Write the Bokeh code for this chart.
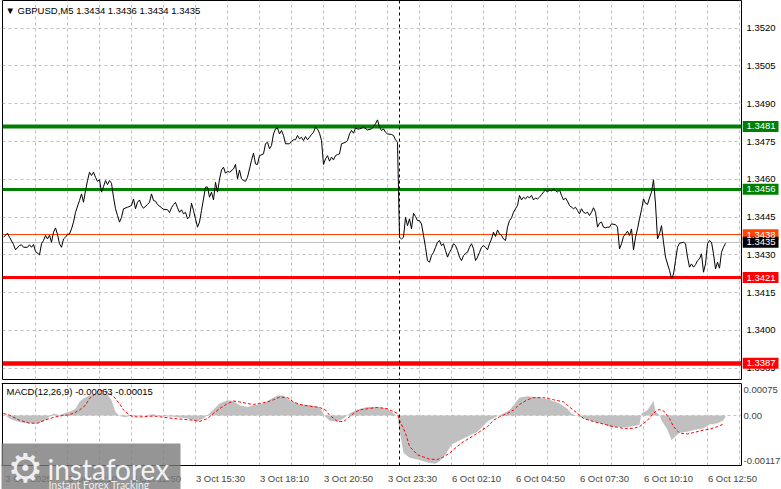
import pandas as pd
from bokeh.plotting import figure
from bokeh.layouts import column, row
from bokeh.models import Range1d, FixedTicker, Label, BoxAnnotation, PrintfTickFormatter
from bokeh.core.properties import value
from bokeh.embed import file_html
from bokeh.resources import INLINE

# ---------------- data ----------------
symbol_title = "\u25BC GBPUSD,M5  1.3434 1.3436 1.3434 1.3435"
macd_title = "MACD(12,26,9) -0.00063 -0.00015"

# M5 bars, weekend collapsed (Fri 3 Oct 07:30 .. Mon 6 Oct 13:35)
fri_times = pd.date_range("2025-10-03 07:30", "2025-10-03 23:55", freq="5min")
mon_times = pd.date_range("2025-10-06 00:00", "2025-10-06 13:35", freq="5min")
day_break_bar = len(fri_times)

price_bars = [0, 2, 3, 5, 6, 8, 9, 10, 12, 13, 14, 15, 16, 18, 19, 20, 21, 22, 23, 24, 25, 26, 27, 28, 29, 30,
              31, 32, 33, 34, 35, 36, 38, 39, 40, 41, 42, 43, 44, 45, 46, 47, 48, 49, 50, 51, 52, 53, 54, 55, 56,
              57, 58, 59, 60, 62, 64, 65, 66, 67, 68, 69, 70, 72, 73, 74, 75, 76, 77, 79, 80, 82, 83, 84, 85, 86,
              87, 88, 89, 90,
              91, 92, 93, 94, 95, 96, 97, 98, 99, 100, 101, 102, 103, 104, 105, 106, 107, 108, 109, 110, 111, 112,
              113, 115, 116, 117, 118, 119, 120, 121, 122, 124, 125, 126, 127, 128, 130, 131, 132, 133, 134, 135,
              136, 137, 138, 139, 140, 141, 143, 144, 145, 146, 147, 148, 149, 150, 151, 152, 153, 154, 155, 156,
              157, 158, 159, 160, 161, 162, 163, 164, 165, 166, 167, 168, 169, 171, 172, 173, 174, 175, 176, 177,
              178, 180, 182,
              184, 185, 186, 187, 188, 189, 190, 191, 192, 194, 195, 196, 197, 198, 199, 200, 201, 202, 203, 204,
              205, 206, 207, 208, 209, 210, 211, 212, 213, 214, 215, 216, 217, 218, 219, 220, 221, 222, 223, 224,
              225, 226, 227, 228, 229, 230, 231, 232, 233, 234, 235, 236, 237, 238, 239, 240, 241, 242, 243, 244,
              245, 246, 247, 248, 249, 250, 251, 252, 253, 254, 255, 256, 257, 258, 259, 260, 261, 262, 263, 264,
              265, 266, 267, 268, 269, 270, 271, 272, 273, 274, 275,
              276, 277, 278, 279, 280, 281, 282, 283, 285, 286, 287, 288, 289, 290, 291, 292, 293, 294, 295, 296,
              297, 298, 299, 300, 301, 302, 303, 304, 306, 307, 308, 309, 310, 311, 312, 313, 314, 315, 316, 317,
              318, 319, 320, 321, 322, 323, 324, 325, 326, 327, 328, 329, 330, 331, 333, 334, 335, 336, 337, 338,
              340, 341, 342, 343, 344, 345, 346, 347, 348, 349, 350, 351, 352, 353, 354, 355, 356, 357, 358, 359,
              360, 361]
price_close = [1.34370, 1.34386, 1.34370, 1.34341, 1.34320, 1.34337, 1.34340, 1.34330, 1.34330, 1.34340,
               1.34330, 1.34341, 1.34314, 1.34300, 1.34344, 1.34357, 1.34377, 1.34363, 1.34378, 1.34350,
               1.34390, 1.34407, 1.34381, 1.34344, 1.34330, 1.34363, 1.34370, 1.34381, 1.34383, 1.34403,
               1.34430, 1.34469, 1.34516, 1.34542, 1.34509, 1.34555, 1.34595, 1.34628, 1.34615, 1.34628,
               1.34608, 1.34592, 1.34598, 1.34549, 1.34571, 1.34595, 1.34579, 1.34595, 1.34584, 1.34529,
               1.34483, 1.34456, 1.34430, 1.34449, 1.34483, 1.34489, 1.34496, 1.34522, 1.34483, 1.34509,
               1.34518, 1.34496, 1.34485, 1.34500, 1.34509, 1.34542, 1.34516, 1.34513, 1.34500, 1.34487,
               1.34481, 1.34479, 1.34468, 1.34487, 1.34500, 1.34508, 1.34487, 1.34469, 1.34479, 1.34463,
               1.34469, 1.34443, 1.34452, 1.34505, 1.34476, 1.34443, 1.34410, 1.34430, 1.34476, 1.34522,
               1.34569, 1.34569, 1.34529, 1.34549, 1.34518, 1.34588, 1.34549, 1.34600, 1.34637, 1.34648,
               1.34624, 1.34632, 1.34628, 1.34641, 1.34659, 1.34602, 1.34637, 1.34602, 1.34595, 1.34592,
               1.34608, 1.34675, 1.34704, 1.34661, 1.34659, 1.34694, 1.34701, 1.34741, 1.34747, 1.34721,
               1.34734, 1.34780, 1.34800, 1.34804, 1.34780, 1.34794, 1.34774, 1.34741, 1.34741, 1.34751,
               1.34757, 1.34757, 1.34774, 1.34761, 1.34767, 1.34754, 1.34770, 1.34757, 1.34767, 1.34778,
               1.34787, 1.34807, 1.34800, 1.34783, 1.34754, 1.34659, 1.34681, 1.34694, 1.34672, 1.34688,
               1.34677, 1.34694, 1.34698, 1.34701, 1.34741, 1.34747, 1.34754, 1.34780, 1.34794, 1.34783,
               1.34804, 1.34800, 1.34800, 1.34807, 1.34796,
               1.34800, 1.34810, 1.34820, 1.34836, 1.34807, 1.34794, 1.34800, 1.34787, 1.34780, 1.34778,
               1.34774, 1.34757, 1.34747, 1.34370, 1.34363, 1.34370, 1.34449, 1.34416, 1.34443, 1.34403,
               1.34465, 1.34452, 1.34436, 1.34436, 1.34423, 1.34377, 1.34330, 1.34277, 1.34271, 1.34297,
               1.34310, 1.34330, 1.34350, 1.34357, 1.34337, 1.34344, 1.34317, 1.34291, 1.34310, 1.34324,
               1.34344, 1.34337, 1.34317, 1.34291, 1.34277, 1.34297, 1.34306, 1.34310, 1.34330, 1.34344,
               1.34324, 1.34277, 1.34291, 1.34310, 1.34330, 1.34337, 1.34330, 1.34320, 1.34344, 1.34363,
               1.34390, 1.34373, 1.34399, 1.34383, 1.34377, 1.34363, 1.34357, 1.34410, 1.34436, 1.34447,
               1.34469, 1.34483, 1.34496, 1.34536, 1.34518, 1.34529, 1.34522, 1.34532, 1.34526, 1.34536,
               1.34518, 1.34526, 1.34522, 1.34529, 1.34539, 1.34549, 1.34558, 1.34549, 1.34558, 1.34553,
               1.34562,
               1.34555, 1.34549, 1.34558, 1.34536, 1.34518, 1.34526, 1.34513, 1.34496, 1.34483, 1.34489,
               1.34476, 1.34463, 1.34483, 1.34469, 1.34465, 1.34469, 1.34456, 1.34469, 1.34487, 1.34469,
               1.34410, 1.34426, 1.34430, 1.34410, 1.34407, 1.34410, 1.34410, 1.34423, 1.34420, 1.34410,
               1.34324, 1.34344, 1.34373, 1.34383, 1.34394, 1.34377, 1.34403, 1.34320, 1.34370, 1.34403,
               1.34443, 1.34479, 1.34522, 1.34505, 1.34500, 1.34526, 1.34549, 1.34598, 1.34502, 1.34363,
               1.34383, 1.34416, 1.34350, 1.34291, 1.34238, 1.34205, 1.34224, 1.34277, 1.34330, 1.34346,
               1.34350, 1.34344, 1.34291, 1.34251, 1.34264, 1.34251, 1.34261, 1.34277, 1.34284, 1.34304,
               1.34231, 1.34264, 1.34344, 1.34357, 1.34350, 1.34304, 1.34244, 1.34271, 1.34247, 1.34310,
               1.34330, 1.34346]

# MACD histogram (main) and signal line
hist_bars = [0, 3, 7, 10, 13, 17, 20, 23, 25, 28, 30, 33, 36, 38, 40, 43, 46, 48, 52, 54, 56, 58, 61, 63, 68,
             75, 78, 85, 92, 97, 100, 103, 105, 108, 112, 115, 118, 122, 125, 130, 133, 137, 140, 143, 148, 153,
             158, 161, 163, 167, 170, 173, 177, 182, 187, 192, 194, 197, 198, 200, 203, 207, 210, 213, 216, 218,
             221, 224, 227, 232, 237, 242, 247, 250, 253, 256, 258, 262, 267, 273, 278, 282, 284, 287, 290, 295,
             300, 303, 307, 310, 313, 318, 319, 322, 323, 325, 326, 328, 329, 332, 334, 336, 338, 342, 345, 350,
             353, 357, 360, 361]
hist_vals = [0.00005, -0.00007, -0.00014, -0.00017, -0.00018, -0.00018, -0.00014, -0.00003, 0.00005, 0.00001,
             0.00005, 0.00009, 0.00016, 0.00032, 0.00040, 0.00047, 0.00051, 0.00053, 0.00050, 0.00036,
             0.00009, -0.00001, -0.00004, -0.00001, -0.00001, 0.00003, -0.00001, -0.00003, -0.00007, -0.00014,
             -0.00007, 0.00005, 0.00014, 0.00028, 0.00036, 0.00034, 0.00024, 0.00020, 0.00024, 0.00028,
             0.00037, 0.00047, 0.00047, 0.00036, 0.00026, 0.00024, 0.00020, -0.00003, -0.00012, -0.00014,
             -0.00007, 0.00005, 0.00014, 0.00020, 0.00020, 0.00016, 0.00008, -0.00001, -0.00034, -0.00088,
             -0.00099, -0.00103, -0.00107, -0.00111, -0.00113, -0.00107, -0.00092, -0.00068, -0.00061, -0.00049,
             -0.00038, -0.00014, -0.00001, 0.00005, 0.00013, 0.00030, 0.00042, 0.00045, 0.00043, 0.00037,
             0.00028, 0.00016, 0.00005, -0.00001, -0.00007, -0.00014, -0.00020, -0.00026, -0.00026, -0.00028,
             -0.00026, -0.00022, 0.00005, 0.00013, 0.00020, 0.00034, 0.00009, 0.00001, -0.00011, -0.00034,
             -0.00057, -0.00049, -0.00040, -0.00038, -0.00034, -0.00030, -0.00021, -0.00018, -0.00011, -0.00003]

signal_bars = [0, 3, 8, 13, 17, 20, 23, 28, 32, 35, 38, 41, 43, 46, 48, 52, 55, 58, 60, 63, 65, 70, 75, 80, 85,
               90, 95, 98, 102, 105, 108, 112, 115, 118, 122, 125, 128, 132, 135, 138, 142, 145, 148, 153, 158,
               161, 163, 167, 170, 173, 175, 178, 182, 187, 192, 194, 197, 198, 201, 203, 207, 210, 213, 217, 220,
               223, 227, 230, 233, 238, 242, 245, 248, 252, 255, 258, 262, 265, 270, 275, 280, 283, 287, 290, 295,
               300, 305, 310, 315, 318, 322, 325, 327, 328, 330, 333, 335, 338, 342, 345, 350, 353, 357, 360]
signal_vals = [0.00005, 0.00001, -0.00011, -0.00018, -0.00018, -0.00012, -0.00007, -0.00001, 0.00001, 0.00005,
               0.00013, 0.00024, 0.00040, 0.00051, 0.00060, 0.00055, 0.00045, 0.00028, 0.00013, 0.00001,
               -0.00003, -0.00003, -0.00001, -0.00004, -0.00007, -0.00009, -0.00011, -0.00014, -0.00007, 0.00005,
               0.00016, 0.00028, 0.00034, 0.00032, 0.00028, 0.00026, 0.00028, 0.00032, 0.00037, 0.00043,
               0.00042, 0.00032, 0.00026, 0.00022, 0.00019, 0.00013, 0.00001, -0.00014, -0.00014, -0.00003,
               0.00005, 0.00013, 0.00016, 0.00019, 0.00016, 0.00011, 0.00005, -0.00011, -0.00041, -0.00072,
               -0.00092, -0.00097, -0.00102, -0.00103, -0.00097, -0.00088, -0.00072, -0.00061, -0.00053, -0.00038,
               -0.00026, -0.00011, -0.00003, 0.00005, 0.00013, 0.00026, 0.00037, 0.00042, 0.00042, 0.00037,
               0.00032, 0.00020, 0.00005, -0.00007, -0.00014, -0.00020, -0.00026, -0.00030, -0.00030, -0.00026,
               -0.00011, 0.00005, 0.00013, 0.00014, 0.00011, -0.00007, -0.00026, -0.00041, -0.00043, -0.00040,
               -0.00034, -0.00032, -0.00026, -0.00020]

# horizontal levels
level_prices = [1.3481, 1.3456, 1.3438, 1.3421, 1.3387]
level_colors = ["#008000", "#008000", "#FF4500", "#FF0000", "#FF0000"]
level_widths = [4, 3, 1, 3, 4.5]
bid_price = 1.3435

# axes
price_ticks = [1.3385, 1.3400, 1.3415, 1.3430, 1.3445, 1.3460, 1.3475, 1.3490, 1.3505, 1.3520]
time_label_bars = [0, 32, 64, 96, 128, 160, 192, 224, 256, 288, 320, 352]
time_labels = ["3 Oct 2025", "3 Oct 10:10", "3 Oct 12:50", "3 Oct 15:30", "3 Oct 18:10", "3 Oct 20:50",
               "3 Oct 23:30", "6 Oct 02:10", "6 Oct 04:50", "6 Oct 07:30", "6 Oct 10:10", "6 Oct 12:50"]
grid_bars = [16, 32, 48, 64, 80, 96, 112, 128, 144, 160, 176, 192, 208, 224, 240, 256, 272, 288, 304, 320,
             336, 352, 368]
macd_scale_max = 0.00075
macd_scale_min = -0.00117

# ---------------- styling ----------------
FONT = "Liberation Sans"
FS = "9.5px"
GRID_C = "#C0C0C0"
FW = 739            # chart frame width (2 px per bar)
X0, X1 = -0.5, 369  # visible bars

# ---------------- main price panel ----------------
p = figure(frame_width=FW, frame_height=379, x_range=Range1d(X0, X1), y_range=Range1d(1.33805, 1.35310),
           output_backend="svg", toolbar_location=None, x_axis_location=None, y_axis_location=None,
           min_border_left=2, min_border_right=1, min_border_top=0, min_border_bottom=1,
           background_fill_color="white", border_fill_color="white", outline_line_color="black")
for g in (p.xgrid, p.ygrid):
    g.grid_line_color = GRID_C
    g.grid_line_dash = "3 3"
p.xgrid.ticker = FixedTicker(ticks=grid_bars)
p.ygrid.ticker = FixedTicker(ticks=price_ticks)

for lv, c, w in zip(level_prices, level_colors, level_widths):
    p.hspan(y=[lv], line_color=c, line_width=w)
p.hspan(y=[bid_price], line_color=GRID_C, line_width=1)
p.vspan(x=[day_break_bar], line_color="black", line_dash="3 3", line_width=1)
p.line(price_bars, price_close, line_color="black", line_width=1)

p.add_layout(Label(x=3, y=369, x_units="screen", y_units="screen", text=symbol_title,
                   text_font=FONT, text_font_size=FS, text_color="black",
                   text_align="left", text_baseline="middle"))

# ---------------- price scale (right strip) ----------------
lf = figure(frame_width=37, frame_height=379, x_range=Range1d(0, 37), y_range=p.y_range,
            output_backend="svg", toolbar_location=None, x_axis_location=None, y_axis_location="right",
            min_border_left=0, min_border_right=2, min_border_top=0, min_border_bottom=1,
            background_fill_color="white", border_fill_color="white", outline_line_color=None)
lf.xgrid.visible = False
lf.ygrid.visible = False
ya = lf.yaxis[0]
ya.ticker = FixedTicker(ticks=price_ticks)
ya.formatter = PrintfTickFormatter(format="%.4f")
ya.major_label_text_font = FONT
ya.major_label_text_font_size = FS
ya.major_label_text_color = "black"
ya.major_tick_out = 0
ya.major_tick_in = 0
ya.major_tick_line_color = None
ya.minor_tick_line_color = None
ya.axis_line_color = None
ya.major_label_standoff = -33
ya.level = "underlay"

box_prices = level_prices + [bid_price]
box_colors = level_colors + ["black"]
lf.rect(x=[18] * len(box_prices), y=box_prices, width=36, height=11,
        width_units="screen", height_units="screen", fill_color=box_colors, line_color=None)
lf.text(x=[4] * len(box_prices), y=box_prices, text=[f"{v:.4f}" for v in box_prices],
        text_color="white", text_font=value(FONT), text_font_size=value(FS),
        text_align="left", text_baseline="middle")

# ---------------- MACD panel + time scale (one frame) ----------------
MH = 107                          # frame height: MACD area (82 px) + time-label strip (25 px)
u = (macd_scale_max - macd_scale_min) / 82.0
m = figure(frame_width=FW + 1, frame_height=MH, x_range=Range1d(X0 - 0.5, X1),
           y_range=Range1d(macd_scale_min - 24 * u, macd_scale_max + u),
           output_backend="svg", toolbar_location=None, x_axis_location="below", y_axis_location="right",
           min_border_left=1, min_border_right=40, min_border_top=2, min_border_bottom=0,
           background_fill_color="white", border_fill_color="white", outline_line_color=None)
for g in (m.xgrid, m.ygrid):
    g.grid_line_color = GRID_C
    g.grid_line_dash = "3 3"
m.xgrid.ticker = FixedTicker(ticks=grid_bars)
m.ygrid.ticker = FixedTicker(ticks=[0])

# blank the time-label strip below the MACD window (hides grid there)
m.add_layout(BoxAnnotation(top=macd_scale_min, fill_color="white", fill_alpha=1.0,
                           line_color=None, level="underlay"))

span = macd_scale_max - macd_scale_min
macd_tick_pos = [macd_scale_max - 0.08 * span, 0.0, macd_scale_min + 0.06 * span]
macd_tick_txt = [f"{macd_scale_max:.5f}", "0.00", f"{macd_scale_min:.5f}"]
ma = m.yaxis[0]
ma.ticker = FixedTicker(ticks=macd_tick_pos)
ma.major_label_overrides = {t: s for t, s in zip(macd_tick_pos, macd_tick_txt)}
ma.bounds = (macd_scale_min, macd_scale_max)
ma.major_label_text_font = FONT
ma.major_label_text_font_size = FS
ma.major_tick_out = 0
ma.major_tick_in = 0
ma.minor_tick_line_color = None
ma.axis_line_color = "black"
ma.major_label_standoff = 2

label_shift = 12.5
xa = m.xaxis[0]
xticks = [b + label_shift for b in time_label_bars]
xa.ticker = FixedTicker(ticks=xticks)
xa.major_label_overrides = {t: s for t, s in zip(xticks, time_labels)}
xa.major_label_text_font = FONT
xa.major_label_text_font_size = FS
xa.major_tick_out = 0
xa.major_tick_in = 0
xa.major_tick_line_color = None
xa.minor_tick_line_color = None
xa.axis_line_color = None
xa.major_label_standoff = -17

# MACD window border
m.hspan(y=[macd_scale_max, macd_scale_min], line_color="black", line_width=1)
m.segment(x0=[X0], y0=[macd_scale_min], x1=[X0], y1=[macd_scale_max], line_color="black", line_width=1)

m.varea(x=hist_bars, y1=[0] * len(hist_bars), y2=hist_vals, fill_color="#C0C0C0")
m.line(signal_bars, signal_vals, line_color="#FF0000", line_dash="3 2", line_width=1)
m.segment(x0=[day_break_bar], y0=[macd_scale_min], x1=[day_break_bar], y1=[macd_scale_max],
          line_color="black", line_dash="3 3", line_width=1)

m.add_layout(Label(x=5, y=MH - 9, x_units="screen", y_units="screen", text=macd_title,
                   text_font=FONT, text_font_size=FS, text_color="black",
                   text_align="left", text_baseline="middle"))

# watermark logo
m.add_layout(BoxAnnotation(left=-2, right=179, top=46, bottom=-5,
                           left_units="screen", right_units="screen",
                           top_units="screen", bottom_units="screen",
                           fill_color="#7a7a7a", fill_alpha=0.8, line_color=None))
m.add_layout(Label(x=24, y=22, x_units="screen", y_units="screen", text="\u2699",
                   text_font="DejaVu Sans", text_font_size="40px", text_color="#eeeeee",
                   text_align="center", text_baseline="middle"))
m.add_layout(Label(x=46, y=21, x_units="screen", y_units="screen", text="instaforex",
                   text_font="Lato", text_font_size="28px", text_color="#f2f2f2",
                   text_align="left", text_baseline="alphabetic"))
m.add_layout(Label(x=47, y=5, x_units="screen", y_units="screen", text="Instant Forex Tracking",
                   text_font="Lato", text_font_size="10.5px", text_color="#eeeeee",
                   text_align="left", text_baseline="alphabetic"))

layout = column(row(p, lf, spacing=0), m, spacing=0)
open("out.html", "w").write(file_html(layout, INLINE))
